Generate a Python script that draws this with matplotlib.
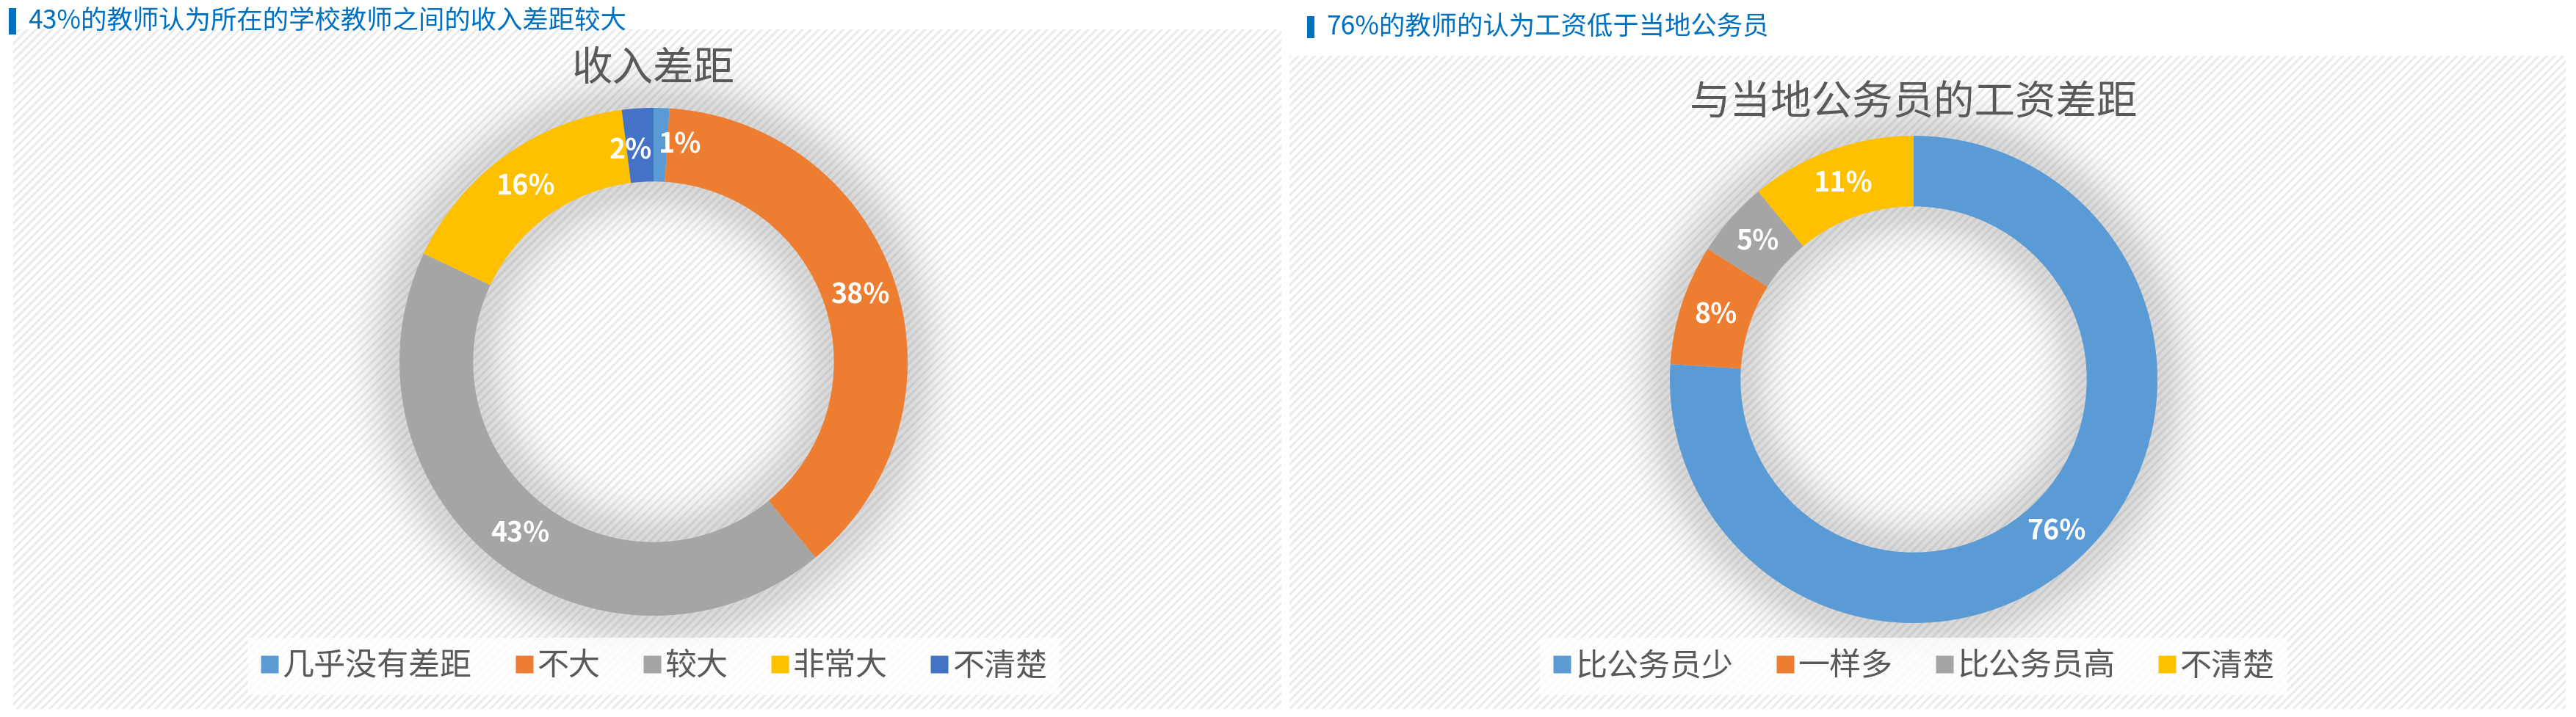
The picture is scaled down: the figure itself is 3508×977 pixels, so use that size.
import numpy as np
import matplotlib
matplotlib.use("Agg")
import matplotlib.pyplot as plt
from matplotlib.patches import Rectangle
from matplotlib.lines import Line2D

plt.rcParams['font.family'] = ['Noto Sans CJK SC', 'DejaVu Sans']
plt.rcParams['hatch.linewidth'] = 2.2

# data
left_header = '43%的教师认为所在的学校教师之间的收入差距较大'
left_title = '收入差距'
left_labels = ['几乎没有差距', '不大', '较大', '非常大', '不清楚']
left_values = [1, 38, 43, 16, 2]
left_colors = ['#5B9BD5', '#ED7D31', '#A5A5A5', '#FFC000', '#4472C4']

right_header = '76%的教师的认为工资低于当地公务员'
right_title = '与当地公务员的工资差距'
right_labels = ['比公务员少', '一样多', '比公务员高', '不清楚']
right_values = [76, 8, 5, 11]
right_colors = ['#5B9BD5', '#ED7D31', '#A5A5A5', '#FFC000']

W, H = 3508, 977
fig = plt.figure(figsize=(W / 100, H / 100), dpi=100)
fig.patch.set_facecolor('white')


def box(x0, y0, x1, y1):
    # pixel box (top-left origin) -> figure fraction
    return [x0 / W, 1 - y1 / H, (x1 - x0) / W, (y1 - y0) / H]


def panel(x0, y0, x1, y1, bar, header, hsize):
    ax = fig.add_axes(box(x0, y0, x1, y1))
    ax.set_xlim(0, 1)
    ax.set_ylim(0, 1)
    ax.axis('off')
    ax.add_patch(Rectangle((0, 0), 1, 1, facecolor='white', edgecolor='#EBEBEB',
                           linewidth=0, hatch='///', transform=ax.transAxes, zorder=0))
    # header bar and text
    bx0, by0, bx1, by1 = bar
    fig.patches.append(Rectangle((bx0 / W, 1 - by1 / H), (bx1 - bx0) / W, (by1 - by0) / H,
                                 facecolor='#0070C0', edgecolor='none',
                                 transform=fig.transFigure))
    fig.text((bx1 + 16) / W, 1 - (by0 + by1) / 2 / H, header, color='#0070C0',
             fontsize=hsize, va='center', ha='left')
    return ax


def donut(cx, cy, r, values, colors, title, title_y, labels, legend_y):
    ax = fig.add_axes(box(cx - r * 1.3, cy - r * 1.3, cx + r * 1.3, cy + r * 1.3))
    ax.set_aspect('equal')
    ax.axis('off')
    # soft shadow around the ring
    g = np.linspace(-1.3, 1.3, 600)
    xx, yy = np.meshgrid(g, g)
    d = np.hypot(xx, yy)
    dist = np.where(d > 1, d - 1, np.where(d < 0.71, 0.71 - d, 0))
    shade = np.exp(-(dist / 0.13) ** 2)
    rgba = np.zeros(d.shape + (4,))
    rgba[..., :3] = 0.4
    rgba[..., 3] = 0.25 * shade
    ax.imshow(rgba, extent=(-1.3, 1.3, -1.3, 1.3), zorder=0)
    wedges, _ = ax.pie(values, colors=colors, startangle=90, counterclock=False,
                       radius=1.0, wedgeprops=dict(width=0.29, edgecolor='none'))
    for w in wedges:
        w.set_zorder(2)
    total = sum(values)
    ang = 90.0
    for v in values:
        mid = np.deg2rad(ang - v / total * 360 / 2)
        x, y = 0.855 * np.cos(mid), 0.855 * np.sin(mid)
        ha = 'center'
        if v < 3:
            ha = 'left' if np.cos(mid) > 0 else 'right'
            x = 0.02 if ha == 'left' else -0.005
            y -= 0.0 if ha == 'left' else 0.02
        ax.text(x, y, f'{v}%', color='white', fontsize=27, fontweight='bold',
                ha=ha, va='center', zorder=3)
        ang -= v / total * 360
    ax.set_xlim(-1.3, 1.3)
    ax.set_ylim(-1.3, 1.3)
    fig.text(cx / W, 1 - title_y / H, title, color='#595959', fontsize=40,
             ha='center', va='center')
    handles = [Line2D([], [], marker='s', linestyle='none', markersize=17,
                      markerfacecolor=c, markeredgecolor='none') for c in colors]
    leg = fig.legend(handles, labels, loc='center', bbox_to_anchor=(cx / W, 1 - legend_y / H),
                     ncol=len(labels), frameon=True, fontsize=31, handlelength=0.6,
                     handletextpad=0.1, columnspacing=1.35, borderpad=0.25,
                     labelcolor='#595959')
    leg.get_frame().set_facecolor('white')
    leg.get_frame().set_alpha(0.8)
    leg.get_frame().set_edgecolor('none')
    leg.get_frame().set_boxstyle('square', pad=0.15)


panel(18, 40, 1745, 966, (12, 11, 22, 47), left_header, 25.5)
panel(1756, 76, 3494, 966, (1780, 22, 1790, 52), right_header, 25.5)

donut(890, 493, 346, left_values, left_colors, left_title, 94, left_labels, 908)
donut(2606, 517, 332, right_values, right_colors, right_title, 141, right_labels, 908)

fig.savefig('out.png', dpi=100)
